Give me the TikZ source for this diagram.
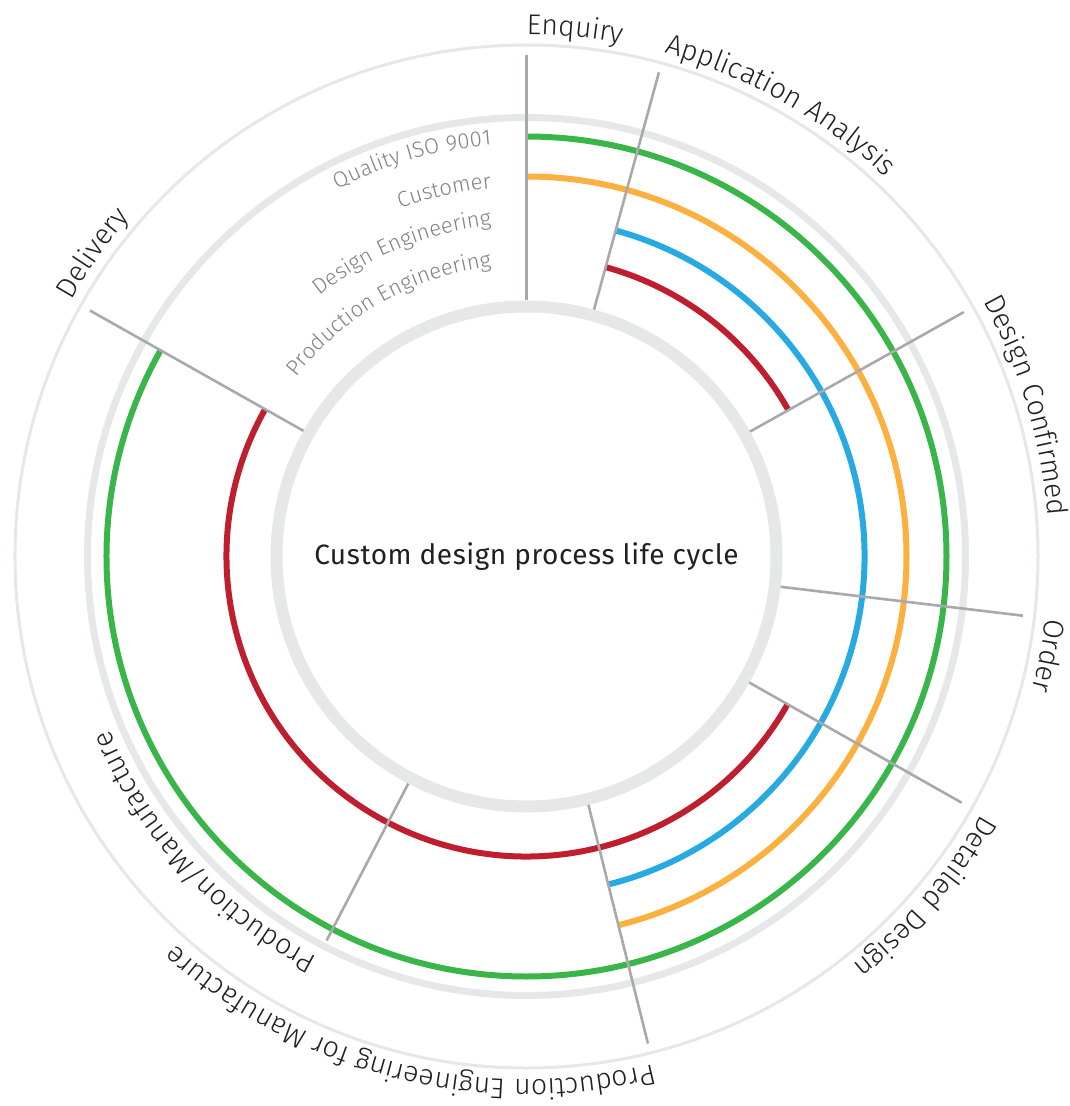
\documentclass[tikz,border=0pt]{standalone}
\usepackage{fontspec}
\setmainfont{Fira Sans Light}
\newfontfamily\regularfont{Fira Sans}[LetterSpace=2]
\newfontfamily\phasefamily{Fira Sans Light}[LetterSpace=3]
\usepackage{tikz}
\usetikzlibrary{decorations.text}
\definecolor{ringgrey}{HTML}{E6E7E8}
\definecolor{divgrey}{HTML}{A7A9AC}
\definecolor{deptgrey}{HTML}{808285}
\definecolor{textdark}{HTML}{231F20}
\definecolor{qualitygreen}{HTML}{39B54A}
\definecolor{customerorange}{HTML}{FBB040}
\definecolor{designblue}{HTML}{27AAE1}
\definecolor{productionred}{HTML}{BE1E2D}
\newcommand{\phasefont}{\phasefamily\fontsize{28.5}{32}\selectfont\color{textdark}}
\newcommand{\deptfont}{\phasefamily\fontsize{22}{26}\selectfont\color{deptgrey}}

\begin{document}
\begin{tikzpicture}[
  x=1pt, y=1pt,
  ring/.style={draw=ringgrey},
  phase/.style={line width=6pt},
  divider/.style={draw=divgrey, line width=2.6pt},
  phaselabel/.style={decorate, decoration={text along path, text align=left, text={|\phasefont|#1}}},
  deptlabel/.style={decorate, decoration={text along path, text align=right, text={|\deptfont|#1}}},
]
\useasboundingbox (-526.5,-549.5) rectangle (543.5,556.5);

% Rings
\draw[ring, line width=3pt] (0,0) circle[radius=511.5];
\draw[ring, line width=7pt] (0,0) circle[radius=439];
\draw[ring, line width=12pt] (0,0) circle[radius=250];

% Department arcs
\draw[phase, qualitygreen] (90:420) arc[start angle=90, end angle=-209.4, radius=420];
\draw[phase, customerorange] (90:380) arc[start angle=90, end angle=-76, radius=380];
\draw[phase, designblue] (74.7:338) arc[start angle=74.7, end angle=-76, radius=338];
\draw[phase, productionred] (74.7:300) arc[start angle=74.7, end angle=29.2, radius=300];
\draw[phase, productionred] (-29.5:300) arc[start angle=-29.5, end angle=-209.4, radius=300];

% Dividers
\draw[divider] (90:256) -- (90:501.5);
\draw[divider] (74.7:256) -- (74.7:502);
\draw[divider] (29.2:256) -- (29.2:501);
\draw[divider] (-6.8:256) -- (-6.8:500);
\draw[divider] (-29.5:256) -- (-29.5:500);
\draw[divider] (-76:256) -- (-76:502);
\draw[divider] (-117.5:256) -- (-117.5:433);
\draw[divider] (150.6:256) -- (150.6:501);

% Phase labels
\path[phaselabel=Enquiry] (90:522) arc[start angle=90, end angle=50, radius=522];
\path[phaselabel=Application Analysis] (74.7:522) arc[start angle=74.7, end angle=20, radius=522];
\path[phaselabel=Design Confirmed] (29.2:523) arc[start angle=29.2, end angle=-30, radius=523];
\path[phaselabel=Order] (-6.8:523) arc[start angle=-6.8, end angle=-40, radius=523];
\path[phaselabel=Detailed Design] (-29.5:523) arc[start angle=-29.5, end angle=-80, radius=523];
\path[phaselabel=Production Engineering for Manufacture] (-76:523) arc[start angle=-76, end angle=-170, radius=523];
\path[phaselabel=Production/Manufacture] (-117.5:452) arc[start angle=-117.5, end angle=-200, radius=452];
\path[phaselabel=Delivery] (150.6:522) arc[start angle=150.6, end angle=100, radius=522];

% Department labels
\path[deptlabel=Quality ISO 9001] (170:413) arc[start angle=170, end angle=94.86, radius=413];
\path[deptlabel=Customer] (170:370) arc[start angle=170, end angle=95.43, radius=370];
\path[deptlabel=Design Engineering] (170:333) arc[start angle=170, end angle=96.03, radius=333];
\path[deptlabel=Production Engineering] (170:292) arc[start angle=170, end angle=96.88, radius=292];

% Title
\node[font=\regularfont\fontsize{28}{32}\selectfont, text=textdark] (title) at (0,0) {Custom design process life cycle};

\end{tikzpicture}
\end{document}
